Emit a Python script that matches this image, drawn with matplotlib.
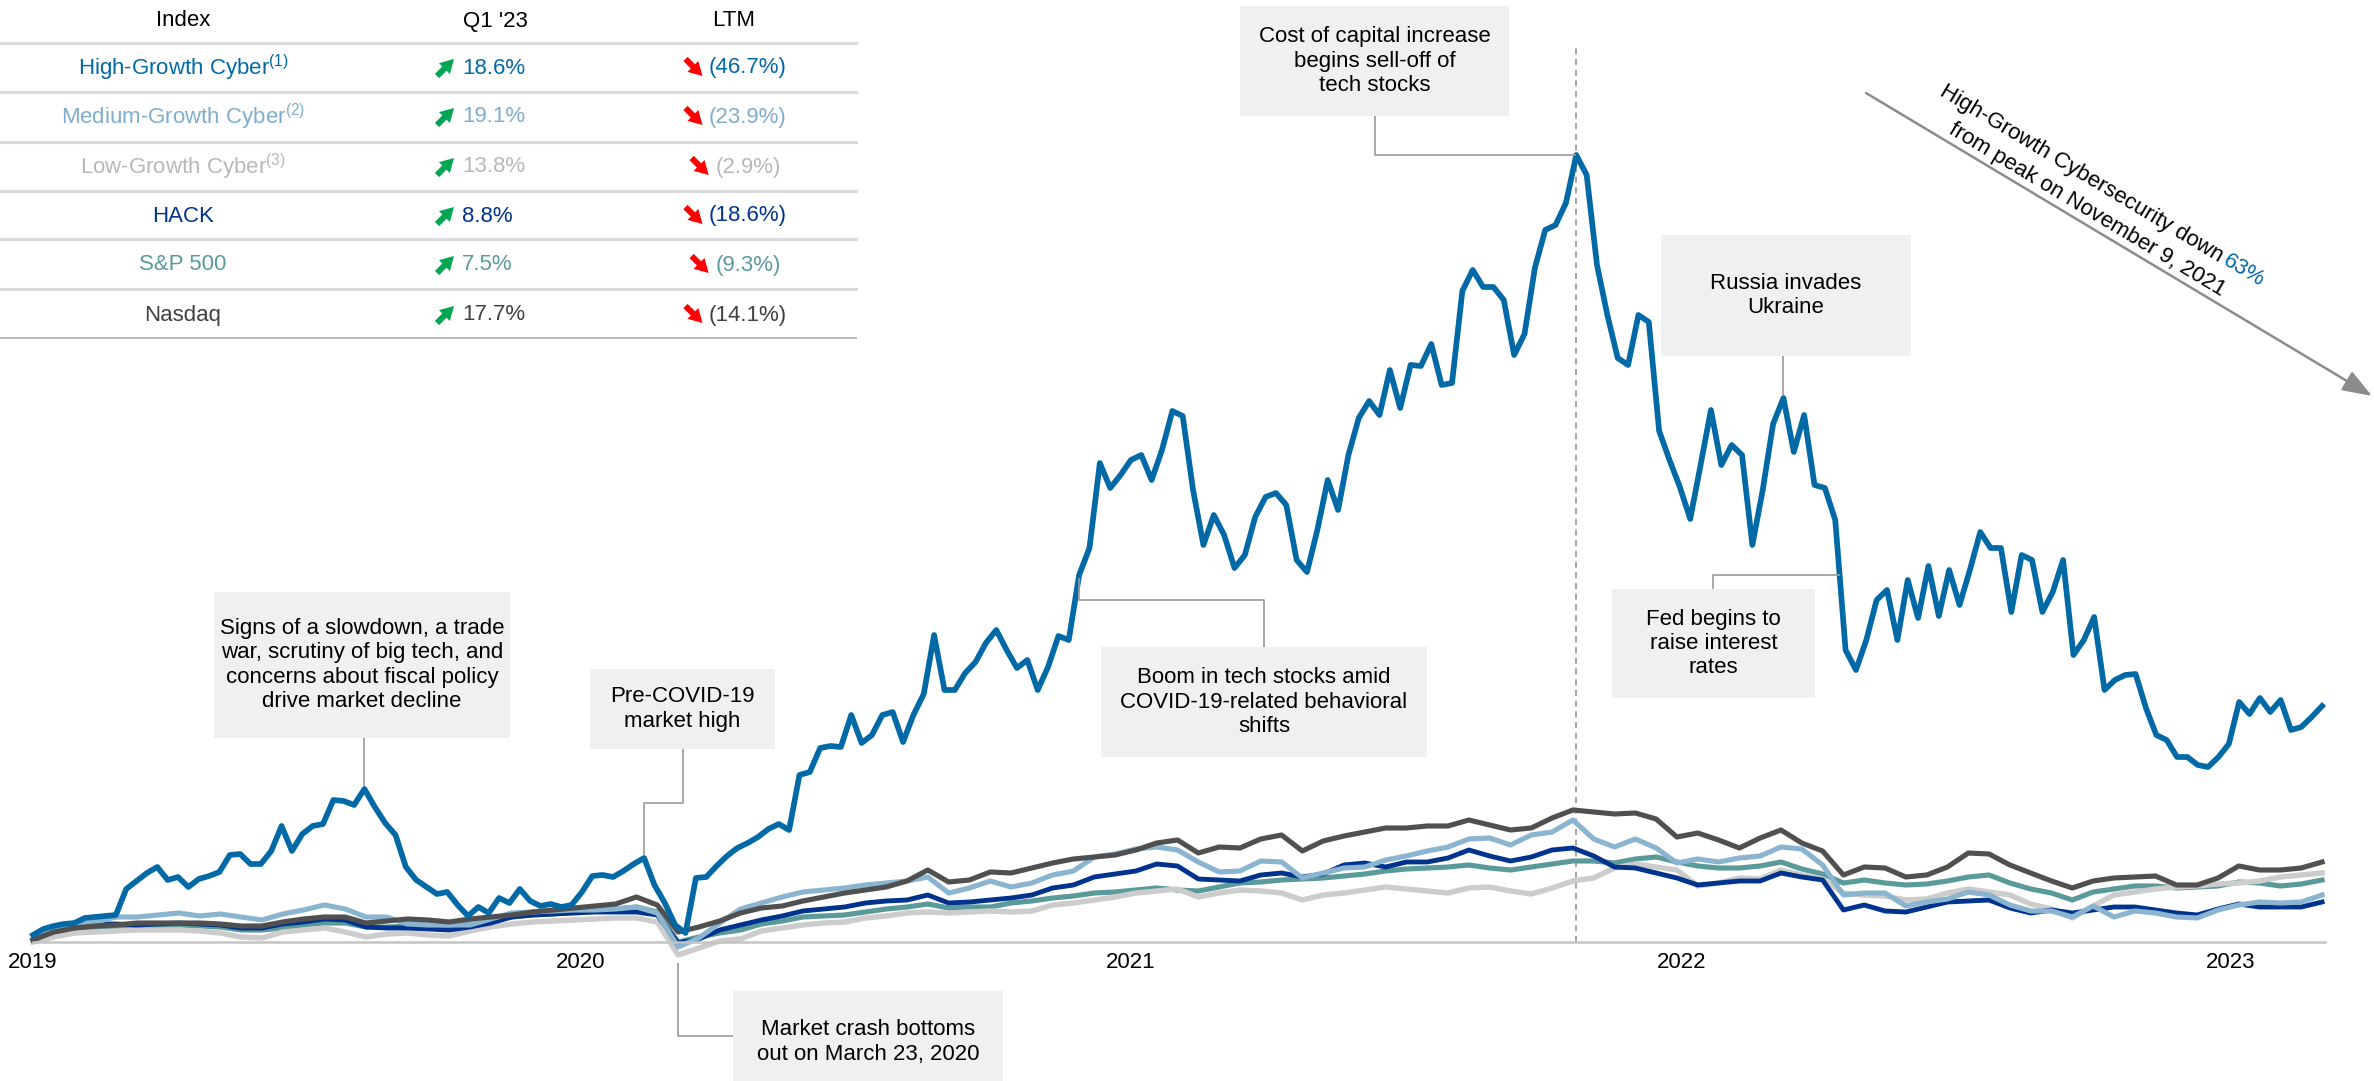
import numpy as np
import pandas as pd
import matplotlib
matplotlib.use('Agg')
import matplotlib.pyplot as plt
import matplotlib.dates as mdates
from matplotlib.patches import Rectangle, FancyArrowPatch
from matplotlib.textpath import TextPath
from matplotlib.font_manager import FontProperties

plt.rcParams['font.family'] = ['Liberation Sans', 'DejaVu Sans']
plt.rcParams['mathtext.fontset'] = 'custom'
plt.rcParams['mathtext.rm'] = 'Liberation Sans'
plt.rcParams['mathtext.it'] = 'Liberation Sans:italic'
plt.rcParams['mathtext.bf'] = 'Liberation Sans:bold'

W, H = 2374, 1081
FS = 16

# Indexed performance (unitless), weekly for High-Growth
weekly_dates = pd.date_range('2019-01-02', periods=222, freq='7D')
high_growth = [
    95, 101, 104, 106, 107, 112, 113, 114, 115, 141,
    149, 157, 163, 150, 153, 143, 151, 154, 158, 175,
    176, 166, 166, 179, 204, 179, 196, 204, 206, 230,
    229, 225, 241, 223, 207, 195, 163, 150, 143, 136,
    138, 125, 114, 123, 117, 132, 127, 141, 129, 124,
    126, 123, 125, 138, 154, 155, 153, 159, 166, 172,
    145, 127, 105, 97, 152, 153, 164, 174, 182, 187,
    193, 201, 206, 200, 255, 258, 282, 284, 283, 315,
    287, 295, 315, 318, 288, 315, 336, 395, 340, 340,
    357, 368, 387, 400, 380, 362, 370, 340, 363, 394,
    390, 455, 482, 567, 542, 555, 570, 575, 550, 580,
    619, 614, 540, 485, 515, 495, 462, 475, 513, 533,
    537, 525, 470, 458, 500, 550, 520, 575, 612, 629,
    615, 660, 622, 665, 664, 686, 645, 647, 739, 760,
    743, 743, 730, 675, 696, 762, 800, 805, 827, 875,
    855, 765, 715, 672, 665, 715, 708, 599, 570, 543,
    511, 565, 620, 565, 585, 575, 485, 540, 606, 632,
    578, 615, 545, 542, 510, 380, 360, 390, 430, 440,
    390, 450, 412, 464, 414, 460, 425, 460, 498, 482,
    482, 418, 475, 470, 418, 438, 470, 375, 390, 413,
    340, 350, 355, 356, 322, 295, 290, 273, 273, 265,
    263, 273, 286, 328, 316, 332, 318, 330, 300, 303,
    313, 324,
]

# the other indices, roughly every two weeks
biweekly_dates = pd.date_range('2019-01-02', '2023-03-29', periods=111)
nasdaq = [
    90, 98, 102, 104, 105, 107, 107, 107, 107, 106, 104, 104, 108, 111, 113, 113,
    107, 109, 111, 110, 108, 111, 113, 115, 118, 120, 122, 124, 126, 133, 125, 98,
    103, 109, 117, 122, 124, 129, 133, 137, 140, 143, 149, 160, 148, 150, 158, 157,
    162, 167, 171, 173, 175, 180, 187, 190,
    177, 183, 182, 191, 195, 179, 189, 194, 198, 202, 202, 204, 204, 210, 205, 200,
    202, 212, 220, 218, 216, 217, 211, 193, 197, 190, 182, 192, 200, 187, 179, 155,
    163, 162, 153, 155, 163, 177, 176, 165, 157, 149, 142, 149, 152, 153, 154, 145,
    145, 152, 164, 160, 160, 162, 168,
]
medium_growth = [
    90, 102, 105, 108, 113, 113, 115, 117, 114, 116, 113, 110, 116, 120, 125, 121,
    113, 113, 106, 105, 105, 105, 111, 117, 118, 119, 120, 120, 121, 123, 117, 83,
    92, 107, 121, 127, 133, 138, 140, 142, 145, 147, 149, 153, 137, 142, 149, 143,
    147, 155, 159, 173, 176, 181, 183, 180,
    168, 158, 159, 169, 168, 152, 157, 162, 163, 170, 174, 179, 183, 191, 192, 185,
    195, 198, 210, 191, 183, 191, 182, 167, 171, 168, 172, 174, 183, 181, 165, 135,
    137, 137, 124, 128, 131, 138, 135, 125, 119, 119, 113, 124, 113, 119, 117, 113,
    112, 120, 125, 128, 127, 128, 135,
]
hack = [
    90, 100, 103, 106, 106, 105, 106, 107, 106, 105, 102, 102, 106, 108, 111, 110,
    103, 102, 102, 101, 100, 103, 107, 113, 115, 116, 117, 118, 118, 118, 115, 87,
    91, 100, 105, 110, 114, 119, 121, 123, 127, 129, 130, 135, 127, 128, 130, 132,
    135, 142, 145, 153, 156, 159, 166, 164,
    151, 150, 149, 155, 157, 153, 156, 165, 167, 163, 168, 168, 172, 180, 174, 169,
    173, 180, 182, 174, 163, 162, 157, 152, 145, 147, 149, 149, 157, 153, 150, 120,
    125, 119, 118, 123, 128, 129, 130, 122, 117, 120, 117, 120, 123, 123, 120, 117,
    115, 121, 126, 123, 123, 123, 128,
]
sp500 = [
    90, 96, 100, 101, 102, 103, 104, 105, 104, 103, 100, 100, 102, 105, 107, 107,
    103, 103, 104, 105, 105, 106, 109, 113, 115, 116, 118, 120, 121, 123, 118, 88,
    93, 97, 100, 106, 109, 113, 114, 115, 118, 121, 123, 126, 122, 123, 123, 127,
    129, 132, 134, 137, 138, 140, 142, 140,
    139, 143, 147, 148, 150, 151, 152, 154, 156, 159, 161, 162, 163, 165, 162, 160,
    163, 166, 169, 169, 167, 171, 173, 168, 164, 162, 162, 164, 168, 161, 156, 147,
    150, 147, 145, 146, 149, 153, 155, 147, 141, 137, 130, 138, 141, 144, 144, 142,
    143, 144, 148, 147, 144, 146, 150,
]
low_growth = [
    88, 93, 97, 98, 99, 100, 100, 100, 99, 97, 93, 92, 98, 100, 102, 98,
    93, 96, 97, 95, 94, 99, 103, 106, 108, 109, 110, 111, 112, 112, 108, 75,
    82, 89, 91, 99, 102, 105, 107, 108, 112, 114, 117, 118, 117, 118, 119, 118,
    119, 125, 127, 130, 133, 137, 139, 141,
    133, 137, 140, 139, 137, 130, 135, 137, 140, 143, 141, 139, 137, 142, 143, 139,
    136, 142, 149, 152, 162, 166, 163, 160, 144, 147, 152, 151, 160, 155, 151, 137,
    135, 134, 130, 131, 137, 141, 138, 135, 126, 121, 112, 124, 135, 138, 141, 143,
    144, 146, 147, 149, 153, 155, 157,
]

# table in the top-left corner
index_names = ['High-Growth Cyber$^{(1)}$', 'Medium-Growth Cyber$^{(2)}$',
               'Low-Growth Cyber$^{(3)}$', 'HACK', 'S&P 500', 'Nasdaq']
q1_returns = [18.6, 19.1, 13.8, 8.8, 7.5, 17.7]
ltm_returns = [-46.7, -23.9, -2.9, -18.6, -9.3, -14.1]

year_ticks = ['2019-01-02', '2020-01-07', '2021-01-13', '2022-01-20', '2023-01-26']
year_labels = ['2019', '2020', '2021', '2022', '2023']

COLORS = {
    'hg': '#0069a6',
    'mg': '#8ab4cf',
    'lg': '#cccccc',
    'hack': '#00338d',
    'sp': '#5b9a9a',
    'nasdaq': '#505050',
}
TEXT_COLORS = ['#0069a6', '#7fadcc', '#b8b8b8', '#00338d', '#5b9a9a', '#404040']
BOX = '#f0f0f0'
LEADER = '#9a9a9a'

fig = plt.figure(figsize=(W / 100, H / 100), dpi=100)
ax = fig.add_axes([33 / W, 1 - 942 / H, 2292 / W, 942 / H])
ax.set_xlim(pd.Timestamp('2019-01-02'), pd.Timestamp('2023-03-31'))
ax.set_ylim(88, 1030)
ax.patch.set_visible(False)

for series, key, lw in [(sp500, 'sp', 3.7), (low_growth, 'lg', 3.9), (hack, 'hack', 3.5),
                        (medium_growth, 'mg', 3.7), (nasdaq, 'nasdaq', 3.7)]:
    ax.plot(biweekly_dates, series, color=COLORS[key], lw=lw, clip_on=False,
            solid_joinstyle='round')
ax.plot(weekly_dates, high_growth, color=COLORS['hg'], lw=4.1, clip_on=False,
        solid_joinstyle='round', zorder=5)

hg = np.array(high_growth)
peak_i = int(np.argmax(hg))
peak_date = weekly_dates[peak_i]
ax.plot([peak_date, peak_date], [88, 1030 - 46], color='#8c8c8c', lw=1.1,
        ls=(0, (4, 3)), zorder=1)

for s in ['left', 'right', 'top']:
    ax.spines[s].set_visible(False)
ax.spines['bottom'].set_color('#c4c4c4')
ax.spines['bottom'].set_linewidth(1.8)
ax.set_yticks([])
ax.set_xticks(pd.to_datetime(year_ticks))
ax.set_xticklabels(year_labels, fontsize=FS)
ax.tick_params(axis='x', length=0, pad=7)

# overlay in pixel coordinates for table and notes
ov = fig.add_axes([0, 0, 1, 1], zorder=3)
ov.set_xlim(0, W)
ov.set_ylim(H, 0)
ov.axis('off')

fp = FontProperties(family='Liberation Sans', size=FS)


def width_px(s):
    return TextPath((0, 0), s, prop=fp).get_extents().width * 100 / 72


def to_px(date, value):
    disp = ax.transData.transform((mdates.date2num(pd.Timestamp(date)), value))
    return ov.transData.inverted().transform(disp)


def window_max(d0, d1):
    m = (weekly_dates >= d0) & (weekly_dates <= d1)
    i = int(np.argmax(np.where(m, hg, -1)))
    return weekly_dates[i], hg[i]


def note(x0, x1, y0, y1, text, cx=None, cy=None):
    ov.add_patch(Rectangle((x0, y0), x1 - x0, y1 - y0, facecolor=BOX,
                           edgecolor='none', clip_on=False))
    ov.text(cx if cx else (x0 + x1) / 2, cy if cy else (y0 + y1) / 2, text,
            ha='center', va='center', fontsize=FS, linespacing=1.2)


def leader(xs, ys):
    ov.plot(xs, ys, color=LEADER, lw=1.2, solid_capstyle='butt', zorder=1)


def trend_arrow(x_right, y, up):
    # small bold arrow drawn just left of a table value
    if up:
        start, end, col = (x_right - 17, y + 8), (x_right, y - 9), '#00a651'
    else:
        start, end, col = (x_right - 17, y - 9), (x_right, y + 8), '#ff0000'
    ov.add_patch(FancyArrowPatch(start, end, color=col, shrinkA=0, shrinkB=0,
                                 arrowstyle='simple,head_length=0.75,head_width=0.85,tail_width=0.33',
                                 mutation_scale=13, lw=0))


# --- table ---
ov.text(183, 21, 'Index', ha='center', va='center', fontsize=FS)
ov.text(495, 21, "Q1 '23", ha='center', va='center', fontsize=FS)
ov.text(734, 21, 'LTM', ha='center', va='center', fontsize=FS)
for y in [43, 92, 142, 191, 239, 289]:
    ov.plot([0, 856], [y, y], color='#dadada', lw=2.2)
ov.plot([0, 856], [338, 338], color='#b5b5b5', lw=1.4)
row_y = [68, 117, 167, 216, 265, 315]
for i, name in enumerate(index_names):
    c = TEXT_COLORS[i]
    y = row_y[i]
    ov.text(183, y, name, color=c, ha='center', va='center', fontsize=FS)
    ov.text(462, y, f'{q1_returns[i]:.1f}%', color=c, ha='left', va='center',
            fontsize=FS)
    trend_arrow(454, y, q1_returns[i] > 0)
    ltm = f'({abs(ltm_returns[i]):.1f}%)'
    ov.text(748, y, ltm, color=c, ha='center', va='center', fontsize=FS)
    trend_arrow(748 - width_px(ltm) / 2 - 8, y, ltm_returns[i] > 0)

# --- notes ---
d19, v19 = window_max('2019-06-01', '2019-10-01')
x19, y19 = to_px(d19, v19)
note(214, 510, 592, 738, 'Signs of a slowdown, a trade\nwar, scrutiny of big tech, and\n'
     'concerns about fiscal policy\ndrive market decline')
leader([x19, x19], [738, y19 - 3])

dpc, vpc = window_max('2020-01-15', '2020-02-28')
xpc, ypc = to_px(dpc, vpc)
note(590, 775, 669, 749, 'Pre-COVID-19\nmarket high')
leader([683, 683, xpc, xpc], [749, 803, 803, ypc - 3])

crash_i = int(np.argmin(low_growth))
xc, yc = to_px(biweekly_dates[crash_i], low_growth[crash_i])
note(733, 1003, 991, 1110, 'Market crash bottoms\nout on March 23, 2020', cy=1042)
leader([xc, xc, 733], [yc + 8, 1036, 1036])

boom_i = 101
xb, yb = to_px(weekly_dates[boom_i], hg[boom_i])
note(1101, 1427, 647, 757, 'Boom in tech stocks amid\nCOVID-19-related behavioral\nshifts')
leader([1264, 1264, xb, xb], [647, 600, 600, yb + 3])

xp, yp = to_px(peak_date, hg[peak_i])
note(1240, 1509, 6, 116, 'Cost of capital increase\nbegins sell-off of\ntech stocks')
leader([1375, 1375, xp], [116, yp, yp])

dru, vru = window_max('2022-03-10', '2022-04-20')
xr, yr = to_px(dru, vru)
note(1661, 1911, 235, 356, 'Russia invades\nUkraine')
leader([xr, xr], [356, yr - 3])

# Fed: leader meets the line where the April 2022 drop crosses its level
fed_level = 1030 - 575
k = 174
frac = (hg[k] - fed_level) / (hg[k] - hg[k + 1])
fed_date = weekly_dates[k] + (weekly_dates[k + 1] - weekly_dates[k]) * frac
xf, yf = to_px(fed_date, fed_level)
note(1612, 1815, 589, 698, 'Fed begins to\nraise interest\nrates')
leader([1713, 1713, xf], [589, yf, yf])

# --- drawdown arrow and rotated label ---
a0 = np.array([1866, 93])
a1 = np.array([2372, 396])
ov.annotate('', xy=a1, xytext=a0, annotation_clip=False,
            arrowprops=dict(arrowstyle='-|>,head_length=0.6,head_width=0.22',
                            mutation_scale=30, color='#8c8c8c', lw=1.8,
                            shrinkA=0, shrinkB=0))
ang = np.degrees(np.arctan2(a1[1] - a0[1], a1[0] - a0[0]))
d = np.array([np.cos(np.radians(ang)), np.sin(np.radians(ang))])
n = np.array([-d[1], d[0]])

w_a = width_px('High-Growth Cybersecurity down') + 0.34 * FS * 100 / 72
w_b = width_px('63%')
c1 = np.array([2102, 184])
p0 = c1 - d * (w_a + w_b) / 2 + n * 7
ov.text(p0[0], p0[1], 'High-Growth Cybersecurity down', rotation=-ang,
        rotation_mode='anchor', ha='left', va='baseline', fontsize=FS)
p1 = p0 + d * w_a
ov.text(p1[0], p1[1], '63%', rotation=-ang, rotation_mode='anchor', ha='left',
        va='baseline', fontsize=FS, color=COLORS['hg'])
c2 = c1 + n * 28 + n * 7
ov.text(c2[0], c2[1], 'from peak on November 9, 2021', rotation=-ang,
        rotation_mode='anchor', ha='center', va='baseline', fontsize=FS)

fig.savefig('out.png', dpi=100, facecolor='white')
